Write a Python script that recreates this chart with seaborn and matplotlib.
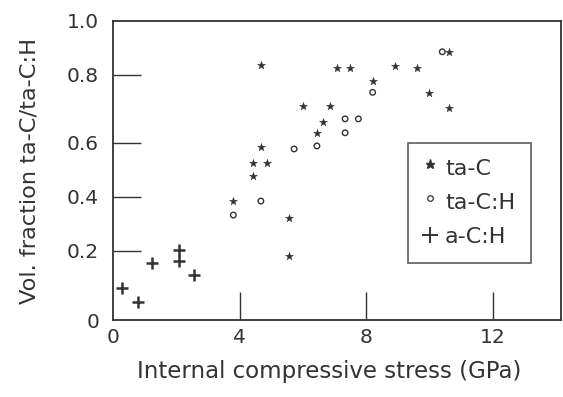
import numpy as np
import pandas as pd
import matplotlib
matplotlib.use("Agg")
import matplotlib.pyplot as plt
import seaborn as sns
from matplotlib.lines import Line2D
from matplotlib.legend_handler import HandlerLine2D

# Film data: internal compressive stress (GPa) vs. sp3 volume fraction
ta_c_stress = [3.80, 4.41, 4.85, 4.41, 4.67, 4.67, 5.57, 5.57, 6.01, 6.86,
               6.62, 6.45, 7.06, 7.49, 8.22, 8.90, 9.59, 9.98, 10.61, 10.61]
ta_c_frac = [0.385, 0.525, 0.525, 0.478, 0.586, 0.836, 0.324, 0.186, 0.709, 0.709,
             0.662, 0.629, 0.827, 0.827, 0.782, 0.834, 0.825, 0.748, 0.886, 0.702]

ta_ch_stress = [3.80, 4.67, 5.72, 6.44, 7.33, 7.33, 7.75, 8.20, 10.40]
ta_ch_frac = [0.333, 0.385, 0.578, 0.589, 0.630, 0.671, 0.671, 0.749, 0.886]

a_ch_stress = [0.27, 0.78, 1.22, 2.09, 2.09, 2.56]
a_ch_frac = [0.092, 0.051, 0.164, 0.204, 0.171, 0.130]

film_labels = ["ta-C", "ta-C:H", "a-C:H"]

x_ticks = [0, 4, 8, 12]
x_tick_labels = ["0", "4", "8", "12"]
y_ticks = [0, 0.2, 0.4, 0.6, 0.8, 1.0]
y_tick_labels = ["0", "0.2", "0.4", "0.6", "0.8", "1.0"]
# the fraction axis is not evenly ruled: relative heights of its graduations
y_rule = [0, 69, 123, 177, 245, 299]

df = pd.concat([
    pd.DataFrame({"stress": ta_c_stress, "frac": ta_c_frac, "film": film_labels[0]}),
    pd.DataFrame({"stress": ta_ch_stress, "frac": ta_ch_frac, "film": film_labels[1]}),
    pd.DataFrame({"stress": a_ch_stress, "frac": a_ch_frac, "film": film_labels[2]}),
], ignore_index=True)

sns.set_theme(style="ticks")
plt.rcParams["font.family"] = ["DejaVu Sans"]
ink = "#333333"

# piecewise-linear scale following the ruled graduations
yv = np.r_[-1.0, y_ticks, 2.0]
yr = np.r_[-(y_rule[1] - y_rule[0]) * 5.0, y_rule,
           y_rule[-1] + (y_rule[-1] - y_rule[-2]) * 5.0]


def fwd(v):
    return np.interp(v, yv, yr)


def inv(p):
    return np.interp(p, yr, yv)


class RaisedMarker(HandlerLine2D):
    """Legend marker set a little above the text centre, like a superscript."""

    def __init__(self, lift=0.0, **kw):
        super().__init__(**kw)
        self.lift = lift

    def create_artists(self, legend, orig_handle, xdescent, ydescent,
                       width, height, fontsize, trans):
        artists = super().create_artists(legend, orig_handle, xdescent, ydescent,
                                         width, height, fontsize, trans)
        for a in artists:
            a.set_ydata(np.asarray(a.get_ydata(), dtype=float) + self.lift * height)
        return artists


fig = plt.figure(figsize=(5.63, 3.97), dpi=100)
ax = fig.add_axes([113 / 563, 1 - 320 / 397, 448 / 563, 299 / 397])
ax.set_yscale("function", functions=(fwd, inv))

sub = df[df.film == film_labels[0]]
sns.scatterplot(data=sub, x="stress", y="frac", marker="*", s=36, color=ink,
                edgecolor=ink, linewidth=0.3, ax=ax, legend=False)
sub = df[df.film == film_labels[1]]
sns.scatterplot(data=sub, x="stress", y="frac", marker="o", s=16, facecolor="none",
                edgecolor=ink, linewidth=1.0, ax=ax, legend=False)
sub = df[df.film == film_labels[2]]
sns.scatterplot(data=sub, x="stress", y="frac", marker="+", s=80, color=ink,
                linewidth=1.8, ax=ax, legend=False)

ax.set_xlim(0, 14.15)
ax.set_ylim(0, 1.0)
ax.set_xticks(x_ticks)
ax.set_xticklabels(x_tick_labels)
ax.set_yticks(y_ticks)
ax.set_yticklabels(y_tick_labels)
ax.minorticks_off()

for side in ["left", "right", "top", "bottom"]:
    ax.spines[side].set_visible(True)
    ax.spines[side].set_color(ink)
    ax.spines[side].set_linewidth(1.3)

ax.tick_params(axis="both", direction="in", length=20, width=1.0, color=ink,
               labelsize=14.5, labelcolor=ink)
ax.tick_params(axis="x", pad=6)
ax.tick_params(axis="y", pad=10)
# the end marks carry no graduation line
for t in (ax.xaxis.get_major_ticks()[0], ax.yaxis.get_major_ticks()[0],
          ax.yaxis.get_major_ticks()[-1]):
    t.tick1line.set_visible(False)

ax.set_xlabel("Internal compressive stress (GPa)", fontsize=16.5, color=ink)
ax.set_ylabel("Vol. fraction ta-C/ta-C:H", fontsize=16.2, color=ink)
ax.xaxis.set_label_coords(0.482, -0.135)
ax.yaxis.set_label_coords(-0.165, 0.5)

handles = [
    Line2D([], [], linestyle="none", marker="*", markersize=6.5, color=ink),
    Line2D([], [], linestyle="none", marker="o", markersize=4, markerfacecolor="none",
           markeredgecolor=ink, markeredgewidth=0.9),
    Line2D([], [], linestyle="none", marker="+", markersize=11, color=ink,
           markeredgewidth=1.4),
]
leg = ax.legend(handles, film_labels, loc="upper left", bbox_to_anchor=(0.658, 0.592),
                frameon=True, fancybox=False, edgecolor=ink, fontsize=16,
                handlelength=0.6, handletextpad=0.35, labelspacing=0.62,
                borderpad=0.72, borderaxespad=0.0, labelcolor=ink,
                handler_map={handles[0]: RaisedMarker(lift=0.22),
                             handles[1]: RaisedMarker(lift=0.18)})
leg.get_frame().set_linewidth(1.2)

fig.savefig("out.png", dpi=100)
